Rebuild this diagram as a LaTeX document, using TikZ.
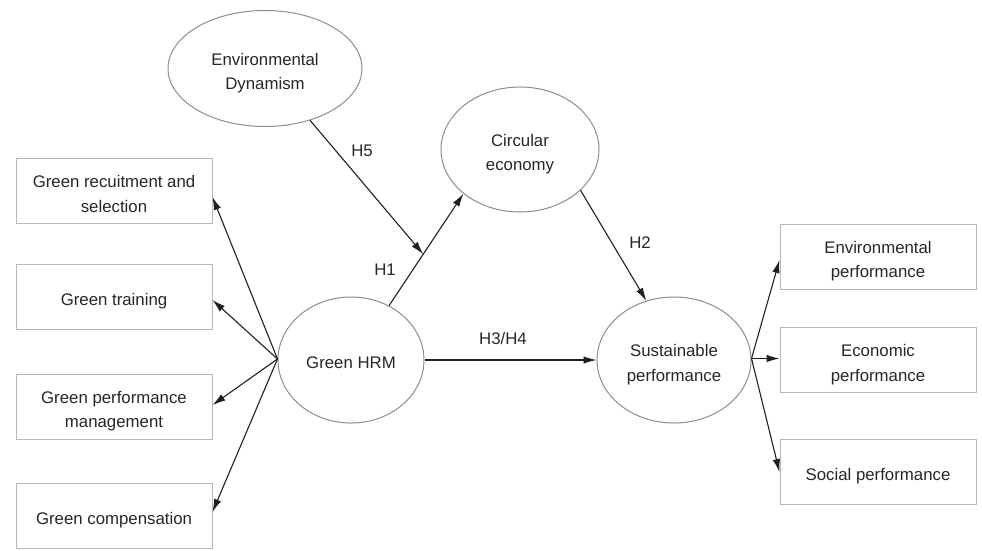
\documentclass[tikz,border=0pt]{standalone}
\usepackage{fontspec}
\setmainfont{Liberation Sans}
\usetikzlibrary{shapes.geometric,arrows.meta,calc}
\definecolor{txt}{HTML}{262626}
\definecolor{boxline}{HTML}{B8B8B8}
\definecolor{ellline}{HTML}{8C8C8C}
\definecolor{arr}{HTML}{202020}
\begin{document}
\begin{tikzpicture}[x=1pt,y=-1pt,
  every node/.style={text=txt,font=\fontsize{16.8}{24.5}\selectfont},
  oneln/.style={text height=17.5pt,text depth=0pt},
  twoln/.style={text height=42.5pt,text depth=0pt},
  dimbox/.style={draw=boxline,line width=1pt,minimum width=196pt,minimum height=65pt,align=center,inner sep=0pt},
  latent/.style={draw=ellline,line width=1pt,ellipse,inner sep=0pt,align=center},
  link/.style={draw=arr,line width=1.1pt,-{Latex[length=13pt,width=7.5pt]}},
  hlabel/.style={inner sep=1pt}
]
\useasboundingbox (0,0) rectangle (982,550);
% left boxes
\node[dimbox,twoln] (b1) at (114,191) {Green recuitment and\\selection};
\node[dimbox,oneln] (b2) at (114,296.5) {Green training};
\node[dimbox,twoln] (b3) at (114,406.5) {Green performance\\management};
\node[dimbox,oneln] (b4) at (114,515.5) {Green compensation};
% right boxes
\node[dimbox,twoln] (r1) at (878,256.5) {Environmental\\performance};
\node[dimbox,twoln] (r2) at (878,360) {Economic\\performance};
\node[dimbox,oneln] (r3) at (878,472) {Social performance};
% latent variables
\node[latent,oneln,minimum width=146pt,minimum height=126pt] (hrm) at (351,360) {Green HRM};
\node[latent,twoln,minimum width=194pt,minimum height=116pt] (ed) at (265,68.5) {Environmental\\Dynamism};
\node[latent,twoln,minimum width=158pt,minimum height=125pt] (circ) at (520,149.5) {Circular\\economy};
\node[latent,twoln,minimum width=154pt,minimum height=126pt] (sp) at (674,360) {Sustainable\\performance};
% connectors
\coordinate (hw) at ([yshift=1pt]hrm.west);
\draw[link] (hw) -- ([yshift=-6pt]b1.east);
\draw[link] (hw) -- ([yshift=-3.5pt]b2.east);
\draw[link] (hw) -- ([yshift=1.5pt]b3.east);
\draw[link] (hw) -- ([yshift=3.5pt]b4.east);
\coordinate (spe) at ([yshift=1.5pt]sp.east);
\draw[link] (spe) -- ([yshift=-3.5pt]r1.west);
\draw[link] (spe) -- ([yshift=1.5pt]r2.west);
\draw[link] (spe) -- (r3.west);
\draw[link] (hrm.55) -- (circ.218);
\coordinate (h5t) at ($(hrm.55)!0.46!(circ.218)$);
\draw[link] (ed.-49) -- (h5t);
\draw[link] (circ.-34.5) -- (sp.115);
\draw[link] (hrm.east) -- (sp.west);
% labels
\node[hlabel] (l5) at (362,151) {H5};
\node[hlabel] (l1) at (385,270) {H1};
\node[hlabel] (l2) at (640,243) {H2};
\node[hlabel] (l34) at (503,338) {H3/H4};
\end{tikzpicture}
\end{document}
